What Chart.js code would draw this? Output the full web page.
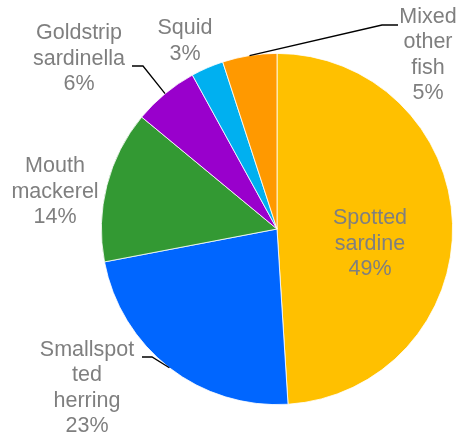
<!DOCTYPE html>
<html>
<head>
<meta charset="utf-8">
<script src="https://cdn.jsdelivr.net/npm/chart.js@4.4.0/dist/chart.umd.min.js"></script>
<style>
  html, body { margin: 0; padding: 0; background: #fff; }
  #wrap { width: 459px; height: 439px; }
</style>
</head>
<body>
<div id="wrap"><canvas id="myChart" width="459" height="439"></canvas></div>
<script>
"use strict";

const species = ["Spotted sardine", "Smallspotted herring", "Mouth mackerel", "Goldstrip sardinella", "Squid", "Mixed other fish"];
const shares = [49, 23, 14, 6, 3, 5];
const sliceColors = ["#FFC000", "#0066FF", "#339933", "#9900CC", "#00B0F0", "#FF9900"];
// how each name wraps on the chart
const labelLines = [
   ["Spotted", "sardine"],
   ["Smallspot", "ted", "herring"],
   ["Mouth", "mackerel"],
   ["Goldstrip", "sardinella"],
   ["Squid"],
   ["Mixed", "other", "fish"],
];

// label block centre relative to the pie centre, plus leader elbow/end (null = no leader)
const labelPlace = [
   { dx: 93, dy: 15, leader: null },
   { dx: -190, dy: 159, leader: [[-125, 128], [-135, 128]] },
   { dx: -222, dy: -37, leader: null },
   { dx: -198, dy: -170, leader: [[-134, -163], [-145, -163]] },
   { dx: -92, dy: -188, leader: null },
   { dx: 151, dy: -174, leader: [[105, -204], [121, -204]] },
];

const pieLabels = {
   id: "pieLabels",
   afterDraw(chart) {
      const c = chart.ctx;
      const arcs = chart.getDatasetMeta(0).data;
      c.save();
      c.font = "21.5px 'Liberation Sans', Arial, sans-serif";
      c.fillStyle = "#7F7F7F";
      c.textAlign = "center";
      c.textBaseline = "middle";
      arcs.forEach((arc, i) => {
         const { x, y, outerRadius, startAngle, endAngle } = arc.getProps(["x", "y", "outerRadius", "startAngle", "endAngle"], true);
         const p = labelPlace[i];
         if (p.leader) {
            const mid = (startAngle + endAngle) / 2;
            c.beginPath();
            c.moveTo(x + outerRadius * Math.cos(mid), y + outerRadius * Math.sin(mid));
            p.leader.forEach(pt => c.lineTo(x + pt[0], y + pt[1]));
            c.strokeStyle = "#000";
            c.lineWidth = 1.3;
            c.stroke();
         }
         const lines = labelLines[i].concat([shares[i] + "%"]);
         const lh = 25.5;
         const top = y + p.dy - (lines.length - 1) * lh / 2;
         lines.forEach((t, k) => c.fillText(t, x + p.dx, top + k * lh));
      });
      c.restore();
   },
};

const ctx = document.getElementById("myChart").getContext("2d");
const myChart = new Chart(ctx, {
   type: "pie",
   data: {
      labels: species,
      datasets: [
         {
            data: shares,
            backgroundColor: sliceColors,
            borderColor: "#FFFFFF",
            borderWidth: 0.8,
         },
      ],
   },
   options: {
      responsive: false,
      animation: false,
      layout: { padding: { left: 101, right: 6, top: 53, bottom: 34 } },
      plugins: {
         legend: { display: false },
         tooltip: { enabled: false },
      },
   },
   plugins: [pieLabels],
});
</script>
</body>
</html>
